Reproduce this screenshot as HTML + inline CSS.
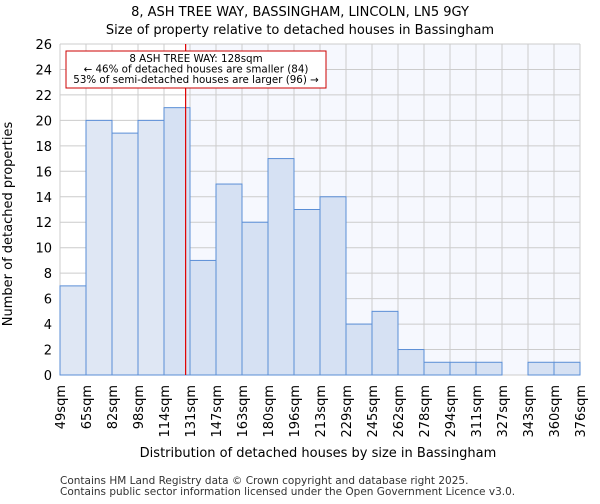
<!DOCTYPE html>
<html><head><meta charset="utf-8"><style>
body{margin:0;background:#fff;font-family:"DejaVu Sans","Liberation Sans",sans-serif;}
svg text{font-family:"DejaVu Sans","Liberation Sans",sans-serif;}
</style></head><body>
<svg id="c" width="600" height="500" xmlns="http://www.w3.org/2000/svg">
<text x="300" y="16" text-anchor="middle" font-size="13">8, ASH TREE WAY, BASSINGHAM, LINCOLN, LN5 9GY</text>
<text x="300" y="34" text-anchor="middle" font-size="13">Size of property relative to detached houses in Bassingham</text>
<g id="plot"></g>
<text x="318" y="457" text-anchor="middle" font-size="13">Distribution of detached houses by size in Bassingham</text>
<text transform="translate(12,224) rotate(-90)" text-anchor="middle" font-size="13">Number of detached properties</text>
<text x="60" y="484" font-size="10.5" fill="#333">Contains HM Land Registry data © Crown copyright and database right 2025.</text>
<text x="60" y="495" font-size="10.5" fill="#333">Contains public sector information licensed under the Open Government Licence v3.0.</text>
</svg>
<script>
const tickLabels=["49sqm","65sqm","82sqm","98sqm","114sqm","131sqm","147sqm","163sqm","180sqm","196sqm","213sqm","229sqm","245sqm","262sqm","278sqm","294sqm","311sqm","327sqm","343sqm","360sqm","376sqm"];
const counts=[7,20,19,20,21,9,15,12,17,13,14,4,5,2,1,1,1,0,1,1];
const yTicks=[0,2,4,6,8,10,12,14,16,18,20,22,24,26];
const binStart=49, binWidth=16.35, marker=128;
const X0=60,X1=580,Y0=375,Y1=44,yMax=26;
const nb=counts.length;
const xs=v=>X0+(v-binStart)/(binWidth*nb)*(X1-X0);
const xi=i=>X0+i*(X1-X0)/nb;
const ys=v=>Y0-v/yMax*(Y0-Y1);
const g=document.getElementById('plot');
const NS='http://www.w3.org/2000/svg';
function mk(t,a){const e=document.createElementNS(NS,t);for(const k in a)e.setAttribute(k,a[k]);g.appendChild(e);return e;}
const mx=xs(marker);
let e=mk('rect',{x:X0,y:Y1,width:X1-X0,height:Y0-Y1,fill:'#fff'});


e=mk('rect',{x:mx,y:Y1,width:X1-mx,height:Y0-Y1,fill:'#f6f8fe'});


for(let i=0;i<=nb;i++){e=mk('line',{x1:xi(i),x2:xi(i),y1:Y1,y2:Y0,stroke:'#cccccc','stroke-width':1});

}
yTicks.forEach(t=>{e=mk('line',{x1:X0,x2:X1,y1:ys(t),y2:ys(t),stroke:'#cccccc','stroke-width':1});


e=mk('text',{x:X0-8,y:ys(t)+5,'text-anchor':'end','font-size':13});e.textContent=t;

});
counts.forEach((c,i)=>{if(c<=0)return;e=mk('rect',{x:xi(i),y:ys(c),width:xi(i+1)-xi(i),height:Y0-ys(c),fill:xi(i+1)<=mx+1?'#dfe7f4':'#d6e1f3',stroke:'#5a8ed6','stroke-width':1});

});
tickLabels.forEach((l,i)=>{const x=xi(i);e=mk('text',{transform:`translate(${x+5},385) rotate(-90)`,'text-anchor':'end','font-size':13});e.textContent=l;

});
e=mk('line',{x1:mx,x2:mx,y1:Y1,y2:Y0,stroke:'#e00000','stroke-width':1.2});


e=mk('rect',{x:66,y:51,width:260,height:37,fill:'#fff',stroke:'#cc0000','stroke-width':1});


["8 ASH TREE WAY: 128sqm","← 46% of detached houses are smaller (84)","53% of semi-detached houses are larger (96) →"].forEach((t,i)=>{e=mk('text',{x:196,y:62+i*10.5,'text-anchor':'middle','font-size':10.3});e.textContent=t;

});
</script>
</body></html>
